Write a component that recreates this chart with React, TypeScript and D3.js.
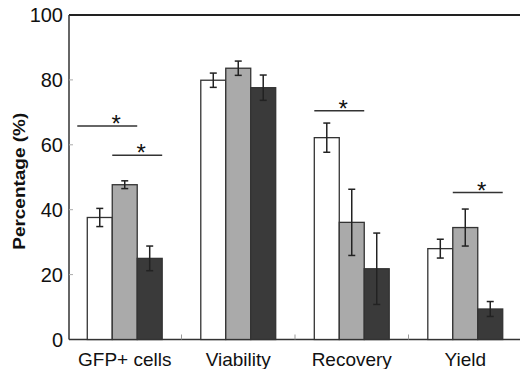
import React from "react";
import * as d3 from "d3";

// values
const categories = ["GFP+ cells", "Viability", "Recovery", "Yield"];
const seriesNames = ["A", "B", "C"];
const valuesA = [37.6, 79.9, 62.2, 28.0];
const valuesB = [47.7, 83.6, 36.1, 34.5];
const valuesC = [25.0, 77.6, 21.8, 9.4];
const errorsA = [2.8, 2.2, 4.5, 2.9];
const errorsB = [1.2, 2.2, 10.2, 5.7];
const errorsC = [3.8, 3.9, 11.0, 2.3];
const yTicks = [0, 20, 40, 60, 80, 100];

// significance brackets: category, first and last bar, height in %
const sigCategory = ["GFP+ cells", "GFP+ cells", "Recovery", "Yield"];
const sigFrom = [0, 1, 0, 1];
const sigTo = [1, 2, 1, 2];
const sigLevel = [65.8, 56.8, 70.5, 45.3];

const fills = ["#ffffff", "#aaaaaa", "#3a3a3a"];
const font = "Arial, 'Liberation Sans', sans-serif";

const App = () => {
    const width = 520, height = 369;
    const left = 69, right = 521, top = 15, bottom = 339.5;

    const values = [valuesA, valuesB, valuesC];
    const errors = [errorsA, errorsB, errorsC];

    const x = d3.scaleBand<string>()
        .domain(categories)
        .range([left, right])
        .paddingInner(0.34)
        .paddingOuter(0.161);

    const xs = d3.scaleBand<string>()
        .domain(seriesNames)
        .range([0, x.bandwidth()]);

    const y = d3.scaleLinear().domain([0, 100]).range([bottom, top]);

    const step = x.step();

    return (
        <svg width={width} height={height}
            style={{ position: "absolute", left: 0, top: 0, background: "#fff" }}>
            {/* frame */}
            <line x1={left} x2={width} y1={top} y2={top} stroke="#222" strokeWidth={2} />
            <line x1={left} x2={left} y1={top} y2={bottom} stroke="#333" strokeWidth={1.5} />
            <line x1={left} x2={width} y1={bottom} y2={bottom} stroke="#333" strokeWidth={1.5} />

            {/* y ticks */}
            {yTicks.map((t) => (
                <g key={t}>
                    {t > 0 && t < 100 && (
                        <line x1={left} x2={left + 4} y1={y(t)} y2={y(t)} stroke="#aaa" strokeWidth={1} />
                    )}
                    <text x={63} y={y(t)} dy="0.36em" textAnchor="end"
                        fontFamily={font} fontSize={20} fill="#111">{t}</text>
                </g>
            ))}

            {/* category separators */}
            {categories.slice(1).map((c) => {
                const xx = (x(c) as number) - step * 0.17;
                return <line key={c} x1={xx} x2={xx} y1={bottom} y2={bottom - 5} stroke="#999" strokeWidth={1} />;
            })}

            {/* bars */}
            {values.map((vals, si) => (
                <g key={si}>
                    {vals.map((v, ci) => {
                        const bx = (x(categories[ci]) as number) + (xs(seriesNames[si]) as number);
                        return (
                            <rect key={ci} x={bx} y={y(v)} width={xs.bandwidth()} height={bottom - y(v)}
                                fill={fills[si]} stroke="#333" strokeWidth={1.3} />
                        );
                    })}
                </g>
            ))}

            {/* error bars */}
            {values.map((vals, si) => (
                <g key={"e" + si} stroke="#222" strokeWidth={1.5}>
                    {vals.map((v, ci) => {
                        const cx = (x(categories[ci]) as number) + (xs(seriesNames[si]) as number) + xs.bandwidth() / 2;
                        const e = errors[si][ci];
                        return (
                            <g key={ci}>
                                <line x1={cx} x2={cx} y1={y(v + e)} y2={y(v - e)} />
                                <line x1={cx - 3.5} x2={cx + 3.5} y1={y(v + e)} y2={y(v + e)} />
                                <line x1={cx - 3.5} x2={cx + 3.5} y1={y(v - e)} y2={y(v - e)} />
                            </g>
                        );
                    })}
                </g>
            ))}

            {/* significance */}
            {sigCategory.map((c, i) => {
                const x0 = (x(c) as number) + (xs(seriesNames[sigFrom[i]]) as number);
                const x1 = (x(c) as number) + (xs(seriesNames[sigTo[i]]) as number) + xs.bandwidth();
                const yy = y(sigLevel[i]);
                return (
                    <g key={"s" + i}>
                        <line x1={x0 - (i === 0 ? 10 : 0)} x2={x1} y1={yy} y2={yy} stroke="#333" strokeWidth={1.5} />
                        <text x={(x0 + x1) / 2 + 4} y={yy + 6} textAnchor="middle"
                            fontFamily={font} fontSize={24} fill="#111">*</text>
                    </g>
                );
            })}

            {/* x labels */}
            {categories.map((c) => (
                <text key={c} x={(x(c) as number) + x.bandwidth() / 2} y={366} textAnchor="middle"
                    fontFamily={font} fontSize={19} fill="#111">{c}</text>
            ))}

            {/* y label */}
            <text transform={`translate(24.5,${(top + bottom) / 2 + 4}) rotate(-90)`} textAnchor="middle"
                fontFamily={font} fontSize={17} fontWeight="bold" fill="#111"
                textLength={137} lengthAdjust="spacingAndGlyphs">Percentage (%)</text>
        </svg>
    );
};

export default App;
